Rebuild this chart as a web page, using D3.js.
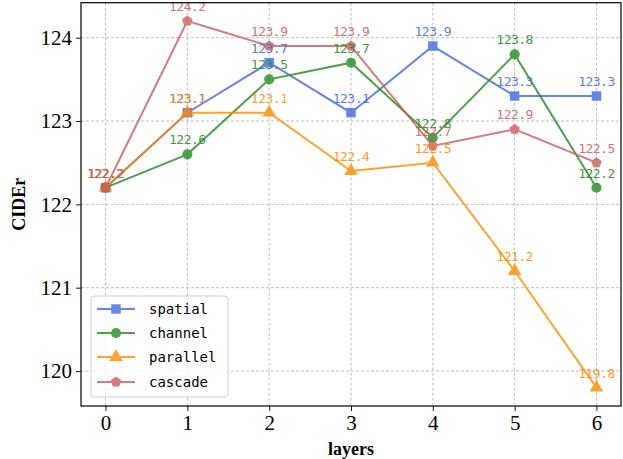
<!DOCTYPE html>
<html>
<head>
<meta charset="utf-8">
<script src="https://cdn.jsdelivr.net/npm/d3@7"></script>
<style>
  body { margin: 0; background: #fff; }
  svg text { fill: #000; }
</style>
</head>
<body>
<svg id="chart" width="623" height="459"></svg>
<script>
const layers = [0, 1, 2, 3, 4, 5, 6]
const spatial = [122.2, 123.1, 123.7, 123.1, 123.9, 123.3, 123.3]
const channel = [122.2, 122.6, 123.5, 123.7, 122.8, 123.8, 122.2]
const parallel = [122.2, 123.1, 123.1, 122.4, 122.5, 121.2, 119.8]
const cascade = [122.2, 124.2, 123.9, 123.9, 122.7, 122.9, 122.5]
const yTicks = [120, 121, 122, 123, 124]

const series = [
  { name: 'spatial', values: spatial, color: '#4169e1', symbol: d3.symbolSquare, size: 90 },
  { name: 'channel', values: channel, color: '#228b22', symbol: d3.symbolCircle, size: 80 },
  { name: 'parallel', values: parallel, color: '#ff8c00', symbol: d3.symbolTriangle, size: 80 },
  { name: 'cascade', values: cascade, color: '#cd5c5c', symbol: d3.symbolCircle, size: 80, pentagon: true }
]

const margin = { top: 2.7, right: 2, bottom: 53, left: 81 }
const width = 623
const height = 459
const svg = d3.select('#chart')

const x = d3.scaleLinear()
  .domain([-0.3, 6.3])
  .range([margin.left, width - margin.right])

const y = d3.scaleLinear()
  .domain([119.58, 124.42])
  .range([height - margin.bottom, margin.top])

// pentagon path for cascade
const pentagon = r => {
  const pts = d3.range(5).map(i => {
    const a = -Math.PI / 2 + i * 2 * Math.PI / 5
    return [r * Math.cos(a), r * Math.sin(a)]
  })
  return 'M' + pts.map(p => p.join(',')).join('L') + 'Z'
}
const markerPath = s => s.pentagon ? pentagon(5.5) : d3.symbol(s.symbol, s.size)()

// grid
const grid = svg.append('g')
grid.selectAll('.gx').data(layers).enter().append('line')
  .attr('x1', d => x(d)).attr('x2', d => x(d))
  .attr('y1', margin.top).attr('y2', height - margin.bottom)
  .attr('stroke', '#b0b0b0').attr('stroke-width', 0.8).attr('stroke-dasharray', '3,2')
grid.selectAll('.gy').data(yTicks).enter().append('line')
  .attr('x1', margin.left).attr('x2', width - margin.right)
  .attr('y1', d => y(d)).attr('y2', d => y(d))
  .attr('stroke', '#b0b0b0').attr('stroke-width', 0.8).attr('stroke-dasharray', '3,2')

// lines + markers
const line = d3.line().x((d, i) => x(layers[i])).y(d => y(d))
series.forEach(s => {
  const g = svg.append('g').attr('opacity', 0.8)
  g.append('path')
    .attr('d', line(s.values))
    .attr('fill', 'none')
    .attr('stroke', s.color)
    .attr('stroke-width', 2)
  g.selectAll('path.m').data(s.values).enter().append('path')
    .attr('class', 'm')
    .attr('d', markerPath(s))
    .attr('transform', (d, i) => `translate(${x(layers[i])},${y(d)})`)
    .attr('fill', s.color)
})

// value labels
series.forEach(s => {
  svg.append('g').selectAll('text').data(s.values).enter().append('text')
    .attr('x', (d, i) => x(layers[i]))
    .attr('y', d => y(d) - 10)
    .attr('text-anchor', 'middle')
    .attr('font-family', 'DejaVu Sans Mono, monospace')
    .attr('font-size', 13)
    .attr('letter-spacing', -0.5)
    .style('fill', s.color)
    .attr('opacity', 0.85)
    .text(d => d.toFixed(1))
})

// axes
const xAxis = g => g
  .attr('transform', `translate(0,${height - margin.bottom})`)
  .call(d3.axisBottom(x).tickValues(layers).tickSize(5).tickPadding(4).tickFormat(d3.format('d')))
const yAxis = g => g
  .attr('transform', `translate(${margin.left},0)`)
  .call(d3.axisLeft(y).tickValues(yTicks).tickSize(5).tickPadding(4).tickFormat(d3.format('d')))

svg.append('g').call(xAxis)
svg.append('g').call(yAxis)
svg.selectAll('.tick text')
  .attr('font-family', 'Liberation Serif, Times New Roman, serif')
  .attr('font-size', 21)
svg.selectAll('.domain').remove()
svg.selectAll('.tick line').attr('stroke', '#000').attr('stroke-width', 0.9)

// frame
svg.append('rect')
  .attr('x', margin.left).attr('y', margin.top)
  .attr('width', width - margin.right - margin.left)
  .attr('height', height - margin.bottom - margin.top)
  .attr('fill', 'none').attr('stroke', '#000').attr('stroke-width', 1.2)

// axis labels
svg.append('text')
  .attr('x', x(3)).attr('y', 455)
  .attr('text-anchor', 'middle')
  .attr('font-family', 'Liberation Serif, serif')
  .attr('font-weight', 'bold').attr('font-size', 18)
  .text('layers')
svg.append('text')
  .attr('transform', `translate(25,${(margin.top + height - margin.bottom) / 2}) rotate(-90)`)
  .attr('text-anchor', 'middle')
  .attr('font-family', 'Liberation Serif, serif')
  .attr('font-weight', 'bold').attr('font-size', 18)
  .text('CIDEr')

// legend
const legend = svg.append('g')
legend.append('rect')
  .attr('x', 91).attr('y', 296).attr('width', 137).attr('height', 101).attr('rx', 3)
  .attr('fill', '#fff').attr('fill-opacity', 0.8)
  .attr('stroke', '#d0d0d0').attr('stroke-width', 1)
const rowY = [309, 333, 357, 382]
series.forEach((s, i) => {
  const row = legend.append('g').attr('transform', `translate(0,${rowY[i]})`)
  const rg = row.append('g').attr('opacity', 0.8)
  rg.append('line').attr('x1', 97).attr('x2', 135)
    .attr('stroke', s.color).attr('stroke-width', 2)
  rg.append('path').attr('d', markerPath(s)).attr('transform', 'translate(116,0)').attr('fill', s.color)
  row.append('text')
    .attr('x', 149).attr('y', 5)
    .attr('font-family', 'DejaVu Sans Mono, monospace')
    .attr('font-size', 14)
    .text(s.name)
})
</script>
</body>
</html>
